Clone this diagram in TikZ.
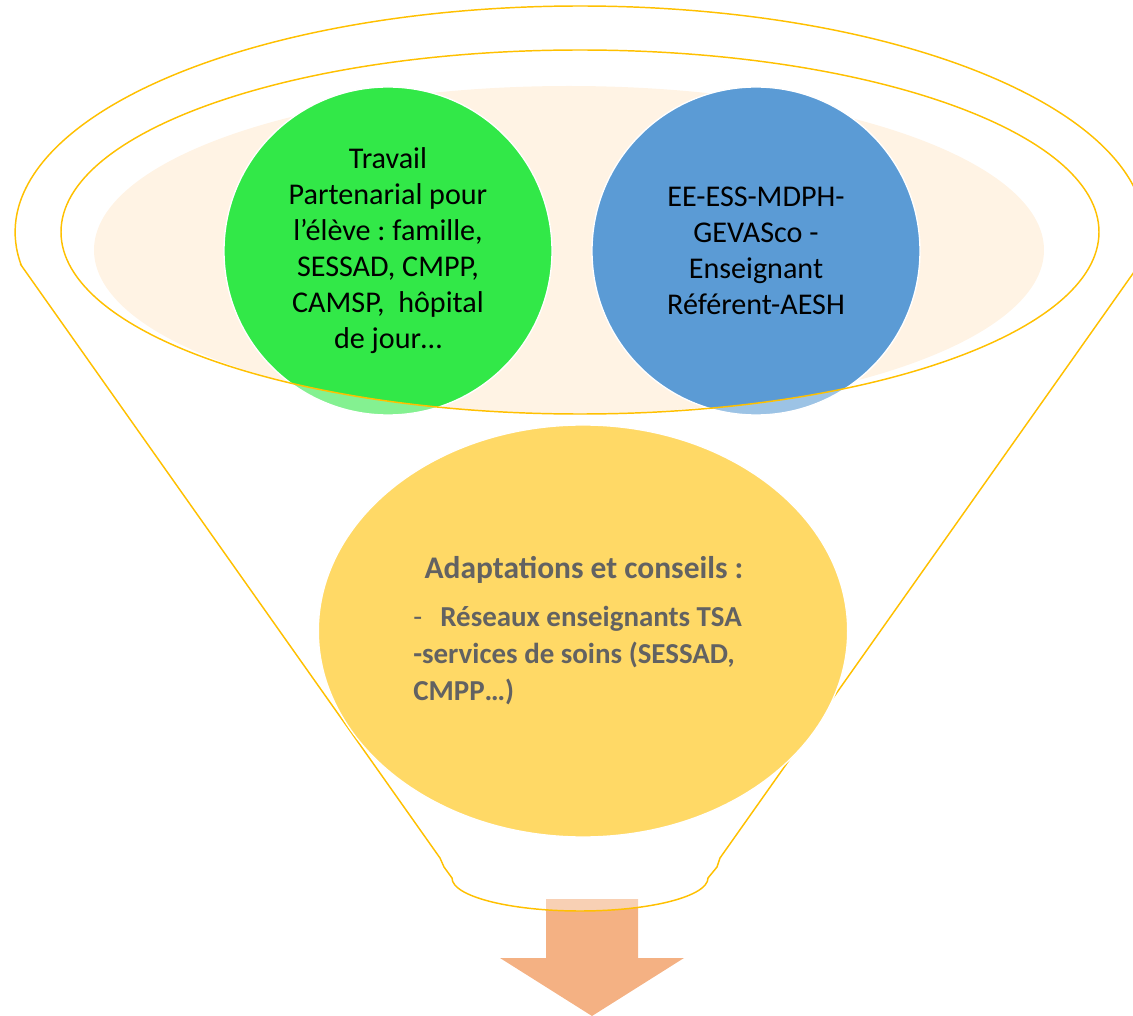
\documentclass[tikz,border=0pt]{standalone}
\usepackage{fontspec}
\setmainfont{Carlito}
\usetikzlibrary{positioning,shapes.geometric}
\frenchspacing

\definecolor{peachC}{RGB}{255,243,228}
\definecolor{greenC}{RGB}{50,232,72}
\definecolor{blueC}{RGB}{91,155,213}
\definecolor{yellowC}{RGB}{255,217,102}
\definecolor{arrowC}{RGB}{244,177,131}
\definecolor{goldC}{RGB}{255,192,0}
\definecolor{greyT}{RGB}{98,98,98}

\begin{document}
\begin{tikzpicture}[x=0.75pt, y=-0.75pt]
            \tikzstyle{bubble}  = [circle, minimum size=246pt, inner sep=0pt, draw=white, line width=1pt, align=center, font=\fontsize{22.6}{27}\selectfont]
            \tikzstyle{funnel}  = [fill=white, fill opacity=0.4, draw=goldC, line width=1.1pt, even odd rule]
            \tikzstyle{bowl}    = [ellipse, minimum width=397pt, minimum height=309pt, fill=yellowC, draw=white, line width=1pt]
            \tikzstyle{bold}    = [text=greyT, font=\fontsize{23.6}{27.4}\selectfont\bfseries, inner sep=0pt]
            \tikzstyle{list}    = [bold, font=\fontsize{21.7}{27.4}\selectfont\bfseries, align=left, anchor=base west]

            \useasboundingbox (0,0) rectangle (1133,1016);
            \clip (0,0) rectangle (1133,1016);

            % Top of the funnel
            \fill[peachC] (569,250) ellipse [x radius=475, y radius=164];

            \node[bubble, fill=greenC] (partner) at (388,251) {Travail\\Partenarial pour\\l’élève : famille,\\SESSAD, CMPP,\\CAMSP,~ hôpital\\de jour…};
            \node[bubble, fill=blueC] (ess) at (756,251) {EE-ESS-MDPH-\\GEVASco -\\Enseignant\\Référent-AESH};

            % Arrow out
            \fill[arrowC] (546,899) -- (638,899) -- (638,958) -- (684,958) -- (592,1016) -- (500,958) -- (546,958) -- cycle;

            % Funnel
            \path[funnel] (21,265) -- (440,858) -- (444,867) -- (452,878)
                arc[start angle=180, end angle=0, x radius=128, y radius=33]
                -- (717,867) -- (720,858) -- (1139,265)
                arc[start angle=8.4, end angle=-188.4, x radius=565, y radius=226] -- cycle
                (580,232) ellipse [x radius=519, y radius=182];

            \node[bowl] (adapt) at (583,631) {};

            \node[bold, anchor=base] (title) at (584,579) {Adaptations et conseils :};
            \node[list] (items) at (413,700) {\makebox[20.3pt][l]{\mdseries -}Réseaux enseignants TSA\\-services de soins (SESSAD,\\CMPP…)};
        \end{tikzpicture}
\end{document}
